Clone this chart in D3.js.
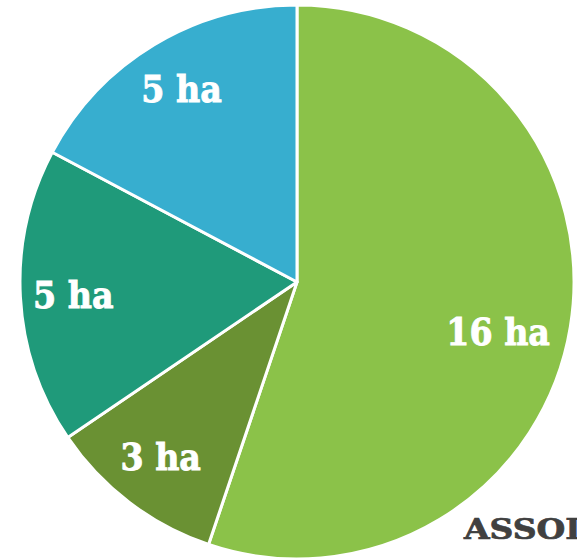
<!DOCTYPE html>
<html><head><meta charset="utf-8">
<script src="https://cdn.jsdelivr.net/npm/d3@7"></script>
<style>html,body{margin:0;padding:0;background:#fff;overflow:hidden}</style>
</head><body>
<svg id="c" width="577" height="558"></svg>
<script>
const categories = ["A", "B", "C", "D"];
const values = [16, 3, 5, 5];
const labels = ["16 ha", "3 ha", "5 ha", "5 ha"];
const colors = ["#8bc249", "#6a9133", "#1f9a7a", "#37aecf"];
const watermark = "ASSOL";

const svg = d3.select("#c");
const cx = 297, cy = 282, r = 277;
const g = svg.append("g").attr("transform", `translate(${cx},${cy})`);
const pie = d3.pie().sort(null).value(d => d)(values);
const arc = d3.arc().innerRadius(0).outerRadius(r);
const labelArc = d3.arc().innerRadius(222).outerRadius(222);

g.selectAll("path").data(pie).enter().append("path")
  .attr("d", arc)
  .attr("fill", (d, i) => colors[i])
  .attr("stroke", "#fff").attr("stroke-width", 3).attr("stroke-linejoin", "round");

// small layout nudge for the large slice label
const nudge = [[-18, 14], [-2, -2], [-2, 0], [-1, -3]];
g.selectAll("text.lbl").data(pie).enter().append("text")
  .attr("class", "lbl")
  .attr("transform", (d, i) => { const c = labelArc.centroid(d); return `translate(${c[0] + nudge[i][0]},${c[1] + nudge[i][1]}) scale(0.9,1)`; })
  .attr("text-anchor", "middle")
  .attr("dy", 13.5)
  .attr("font-family", "DejaVu Serif")
  .attr("font-weight", "bold")
  .attr("font-size", 37)
  .attr("fill", "#fff")
  .attr("stroke", "#fff").attr("stroke-width", 0.9)
  .text((d, i) => labels[i]);

svg.append("text")
  .attr("transform", "translate(464,539) scale(1.2,1)")
  .attr("font-family", "DejaVu Serif")
  .attr("font-weight", "bold")
  .attr("font-size", 27.5)
  .attr("fill", "#404040")
  .attr("stroke", "#404040").attr("stroke-width", 0.7)
  .text(watermark);
</script>
</body></html>
